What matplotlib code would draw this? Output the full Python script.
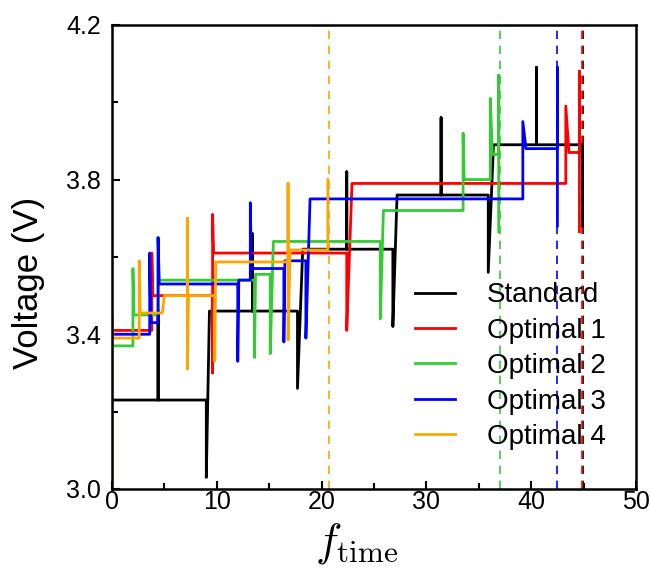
import numpy as np
import matplotlib
matplotlib.use('Agg')
import matplotlib.pyplot as plt
from matplotlib.ticker import MultipleLocator

plt.rcParams['font.family'] = ['Liberation Sans', 'DejaVu Sans']
plt.rcParams['mathtext.fontset'] = 'cm'

# Voltage profiles (x = f_time, y = voltage in V)
std_x = [0, 4.4, 4.4, 4.4, 9.0, 9.0, 9.3, 13.4, 13.4, 13.4, 17.7, 17.7, 18.2, 22.4, 22.4, 22.4,
         26.8, 26.8, 27.2, 31.4, 31.4, 31.4, 35.9, 35.9, 36.4, 40.5, 40.5, 40.5, 44.9, 44.9]
std_y = [3.23, 3.23, 3.46, 3.23, 3.23, 3.03, 3.46, 3.46, 3.66, 3.46, 3.46, 3.26, 3.62, 3.62, 3.82, 3.62,
         3.62, 3.42, 3.76, 3.76, 3.96, 3.76, 3.76, 3.56, 3.89, 3.89, 4.09, 3.89, 3.89, 3.68]

opt1_x = [0, 3.8, 3.8, 3.9, 9.6, 9.6, 9.6, 9.7, 22.4, 22.4, 22.9, 43.3, 43.3, 43.6, 44.6, 44.6, 44.6]
opt1_y = [3.41, 3.41, 3.61, 3.50, 3.50, 3.30, 3.71, 3.61, 3.61, 3.41, 3.79, 3.79, 3.99, 3.87, 3.87, 4.08, 3.665]

opt2_x = [0, 2.0, 2.0, 2.1, 4.4, 4.4, 4.5, 13.6, 13.6, 13.7, 15.1, 15.1, 15.4, 25.6, 25.6, 25.9,
          33.5, 33.5, 33.6, 36.1, 36.1, 36.3, 36.9, 36.9, 36.9]
opt2_y = [3.37, 3.37, 3.57, 3.45, 3.45, 3.65, 3.54, 3.54, 3.34, 3.555, 3.555, 3.35, 3.64, 3.64, 3.44, 3.72,
          3.72, 3.92, 3.80, 3.80, 4.01, 3.865, 3.865, 4.07, 3.665]

opt3_x = [0, 3.6, 3.6, 3.7, 4.4, 4.4, 4.5, 12.0, 12.0, 12.1, 13.2, 13.2, 13.3, 16.4, 16.4, 16.5,
          18.5, 18.5, 18.9, 39.2, 39.2, 39.5, 42.5, 42.5, 42.5]
opt3_y = [3.40, 3.40, 3.61, 3.43, 3.43, 3.65, 3.53, 3.53, 3.33, 3.54, 3.54, 3.74, 3.57, 3.57, 3.38, 3.59,
          3.59, 3.39, 3.75, 3.75, 3.95, 3.88, 3.88, 4.09, 3.68]

opt4_x = [0, 0, 0.1, 2.6, 2.6, 2.7, 4.8, 5.0, 7.2, 7.2, 7.2, 7.3, 9.8, 9.8, 9.9, 16.8, 16.8, 16.8,
          17.0, 20.6, 20.6]
opt4_y = [3.02, 3.45, 3.39, 3.39, 3.59, 3.455, 3.455, 3.50, 3.50, 3.70, 3.31, 3.50, 3.50, 3.33, 3.587,
          3.587, 3.79, 3.385, 3.618, 3.618, 3.80]

labels = ['Standard', 'Optimal 1', 'Optimal 2', 'Optimal 3', 'Optimal 4']
colors = ['black', '#ff0000', '#33cc33', '#0000ff', '#ffa500']
end_times = [44.95, 44.8, 37.0, 42.5, 20.7]

series = [(std_x, std_y), (opt1_x, opt1_y), (opt2_x, opt2_y), (opt3_x, opt3_y), (opt4_x, opt4_y)]

fig = plt.figure(figsize=(6.51, 5.78), dpi=100)
ax = fig.add_axes([0.172, 0.154, 0.805, 0.803])

# end-of-charge markers
for t, c in zip(end_times, colors):
    ax.axvline(t, color=c, lw=1.2, ls=(0, (5, 4)), zorder=1)

for (x, y), c, lab in zip(series, colors, labels):
    ax.plot(x, y, color=c, lw=2, label=lab, zorder=2)

ax.set_xlim(0, 50)
ax.set_ylim(3.0, 4.2)
ax.xaxis.set_major_locator(MultipleLocator(10))
ax.xaxis.set_minor_locator(MultipleLocator(5))
ax.set_yticks([3.0, 3.4, 3.8, 4.2])
ax.set_yticklabels(['3.0', '3.4', '3.8', '4.2'])
ax.set_yticks([3.2, 3.6, 4.0], minor=True)
ax.tick_params(which='both', direction='in', top=False, right=False, labelsize=18, width=1.5)
ax.tick_params(which='major', length=6)
ax.tick_params(which='minor', length=4)
ax.tick_params(axis='y', which='major', pad=8)
ax.tick_params(axis='x', which='major', pad=1)
for s in ax.spines.values():
    s.set_linewidth(1.8)

ax.set_xlabel(r'$f_{\mathrm{time}}$', fontsize=32)
ax.xaxis.set_label_coords(0.466, -0.07)
ax.set_ylabel('Voltage (V)', fontsize=25)
ax.yaxis.set_label_coords(-0.127, 0.445)

ax.legend(loc='lower right', bbox_to_anchor=(0.99, 0.03), frameon=False, fontsize=20,
          handlelength=1.45, handletextpad=1.15, labelspacing=0.34)

fig.savefig('out.png', dpi=100)
